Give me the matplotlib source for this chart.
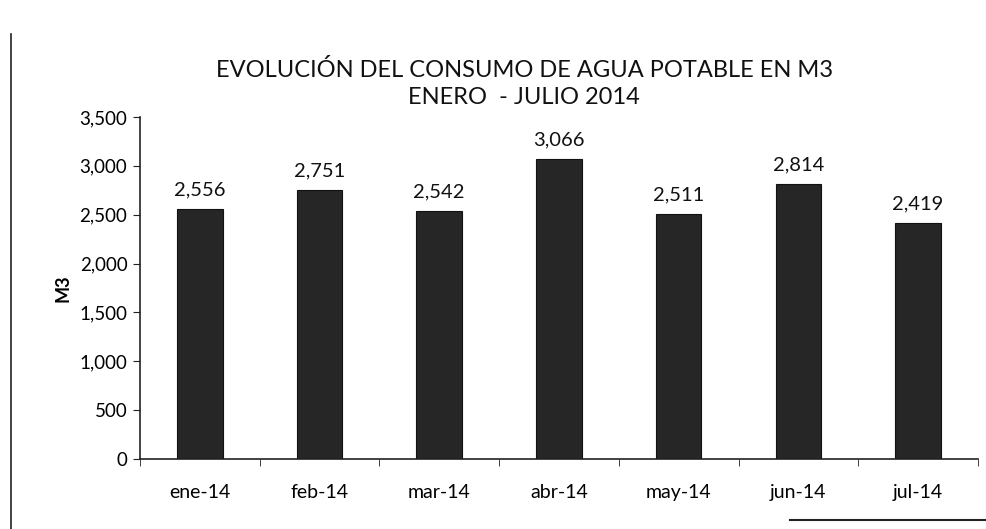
import matplotlib
matplotlib.use("Agg")
import matplotlib.pyplot as plt
from matplotlib.lines import Line2D

months = ["ene-14", "feb-14", "mar-14", "abr-14", "may-14", "jun-14", "jul-14"]
consumo = [2556, 2751, 2542, 3066, 2511, 2814, 2419]
yticks = [0, 500, 1000, 1500, 2000, 2500, 3000, 3500]

plt.rcParams['font.family'] = ['Lato', 'DejaVu Sans']

fig = plt.figure(figsize=(9.87, 5.29), dpi=100)
ax = fig.add_axes([0.1418, 0.1323, 0.849, 0.6465])

x = list(range(len(months)))
bars = ax.bar(x, consumo, width=0.38, color='#262626', edgecolor='#111111', linewidth=0.8)
for xi, v in zip(x, consumo):
    ax.text(xi, v + 110, f"{v:,}", ha='center', va='bottom', fontsize=14.5, color='#111111')

ax.set_xlim(-0.5, len(months) - 0.5)
ax.set_ylim(0, 3500)
ax.set_yticks(yticks)
ax.set_yticklabels([f"{t:,}" for t in yticks], fontsize=13.5)
ax.set_xticks(x)
ax.set_xticklabels(months, fontsize=14)
ax.tick_params(axis='x', length=0, pad=18)
ax.set_xticks([i - 0.5 for i in range(len(months) + 1)], minor=True)
ax.tick_params(axis='x', which='minor', length=5, direction='out', color='#222222')
ax.tick_params(axis='y', length=5, direction='out', color='#222222', pad=4)
for s in ['top', 'right']:
    ax.spines[s].set_visible(False)
for s in ['left', 'bottom']:
    ax.spines[s].set_color('#222222')
    ax.spines[s].set_linewidth(1.2)
ax.set_ylabel("M3", fontsize=13, fontweight='bold', labelpad=6)

fig.text(0.531, 0.868, "EVOLUCIÓN DEL CONSUMO DE AGUA POTABLE EN M3", ha='center', va='center', fontsize=17, color='#111111')
fig.text(0.531, 0.816, "ENERO  - JULIO 2014", ha='center', va='center', fontsize=17, color='#111111')

# scan border lines
fig.add_artist(Line2D([0.011, 0.011], [0.0, 0.935], color='#222222', linewidth=1.2))
fig.add_artist(Line2D([0.80, 1.0], [0.017, 0.017], color='#222222', linewidth=1.5))

fig.savefig("out.png", dpi=100)
